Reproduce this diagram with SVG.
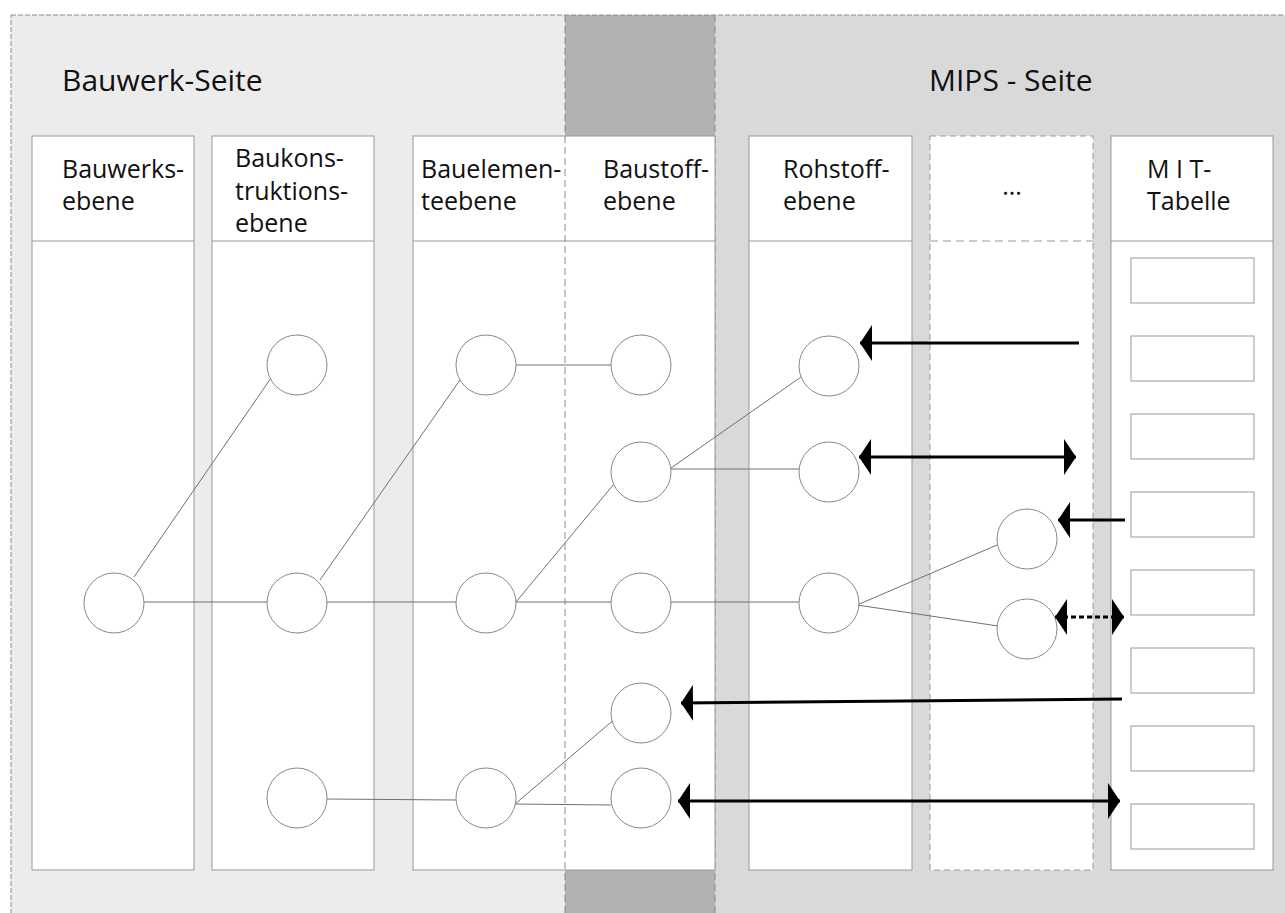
<svg xmlns="http://www.w3.org/2000/svg" width="1285" height="913" viewBox="0 0 1285 913">
<style>
.txt{font-family:"Open Sans","Noto Sans","Liberation Sans",sans-serif;fill:#111}
.title{font-size:30px}
.hd{font-size:25px}
.box{fill:#fff;stroke:#999;stroke-width:1}
.dbox{fill:#fff;stroke:#999;stroke-width:1;stroke-dasharray:6 4}
.hl{stroke:#999;stroke-width:1;fill:none}
.node{fill:#fff;stroke:#888;stroke-width:1}
.con{stroke:#707070;stroke-width:1;fill:none}
.arr{stroke:#000;stroke-width:3;fill:none}
.mit{fill:#fff;stroke:#999;stroke-width:1}
</style>
<defs>
<marker id="head" viewBox="0 -19 14 38" refX="12" refY="0" markerWidth="14" markerHeight="38" markerUnits="userSpaceOnUse" orient="auto-start-reverse">
<path d="M0,-18 L12,0 L0,18 Z" fill="#000"/>
</marker>
</defs>

<!-- backgrounds -->
<g id="background">
<rect x="11" y="15" width="554" height="910" fill="#ececec"/>
<rect x="565" y="15" width="150" height="910" fill="#b1b1b1"/>
<rect x="715" y="15" width="580" height="910" fill="#d9d9d9"/>
<rect x="11" y="15" width="1290" height="920" fill="none" stroke="#8c8c8c" stroke-width="1" stroke-dasharray="5 2"/>
<line x1="565" y1="15" x2="565" y2="913" stroke="#888" stroke-width="1" stroke-dasharray="7 4"/>
<line x1="715" y1="15" x2="715" y2="913" stroke="#888" stroke-width="1" stroke-dasharray="7 4"/>
<text class="txt title" x="62" y="91">Bauwerk-Seite</text>
<text class="txt title" x="929" y="91">MIPS - Seite</text>
</g>

<!-- columns -->
<g id="col-bauwerk">
<rect class="box" x="32" y="136" width="162" height="734"/>
<line class="hl" x1="32" y1="241" x2="194" y2="241"/>
<text class="txt hd" x="62" y="178">Bauwerks-</text>
<text class="txt hd" x="62" y="210">ebene</text>
</g>
<g id="col-baukonstruktion">
<rect class="box" x="212" y="136" width="162" height="734"/>
<line class="hl" x1="212" y1="241" x2="374" y2="241"/>
<text class="txt hd" x="235" y="167">Baukons-</text>
<text class="txt hd" x="235" y="200">truktions-</text>
<text class="txt hd" x="235" y="232">ebene</text>
</g>
<g id="col-bauelement-baustoff">
<rect class="box" x="413" y="136" width="302" height="734"/>
<line class="hl" x1="413" y1="241" x2="715" y2="241"/>
<line x1="565" y1="136" x2="565" y2="870" stroke="#8a8a8a" stroke-width="1" stroke-dasharray="7 4"/>
<text class="txt hd" x="421" y="178">Bauelemen-</text>
<text class="txt hd" x="421" y="210">teebene</text>
<text class="txt hd" x="603" y="178">Baustoff-</text>
<text class="txt hd" x="603" y="210">ebene</text>
</g>
<g id="col-rohstoff">
<rect class="box" x="749" y="136" width="163" height="734"/>
<line class="hl" x1="749" y1="241" x2="912" y2="241"/>
<text class="txt hd" x="783" y="178">Rohstoff-</text>
<text class="txt hd" x="783" y="210">ebene</text>
</g>
<g id="col-dots">
<rect class="dbox" x="930" y="136" width="163" height="734"/>
<line x1="930" y1="241" x2="1093" y2="241" stroke="#999" stroke-width="1" stroke-dasharray="8 5"/>
<text class="txt hd" x="1012" y="195" text-anchor="middle">...</text>
</g>
<g id="col-mit">
<rect class="box" x="1111" y="136" width="162" height="734"/>
<line class="hl" x1="1111" y1="241" x2="1273" y2="241"/>
<text class="txt hd" x="1147" y="178">M I T-</text>
<text class="txt hd" x="1147" y="210">Tabelle</text>
<rect class="mit" x="1131" y="258" width="123" height="45"/>
<rect class="mit" x="1131" y="336" width="123" height="45"/>
<rect class="mit" x="1131" y="414" width="123" height="45"/>
<rect class="mit" x="1131" y="492" width="123" height="45"/>
<rect class="mit" x="1131" y="570" width="123" height="45"/>
<rect class="mit" x="1131" y="648" width="123" height="45"/>
<rect class="mit" x="1131" y="726" width="123" height="45"/>
<rect class="mit" x="1131" y="804" width="123" height="45"/>
</g>

<!-- connectors -->
<g id="connectors">
<line class="con" x1="134" y1="577" x2="271" y2="378"/>
<line class="con" x1="144" y1="602" x2="267" y2="602"/>
<line class="con" x1="320" y1="580" x2="460" y2="380"/>
<line class="con" x1="327" y1="602" x2="457" y2="602"/>
<line class="con" x1="516" y1="365" x2="611" y2="365"/>
<line class="con" x1="516" y1="602" x2="611" y2="602"/>
<line class="con" x1="671" y1="602" x2="799" y2="602"/>
<line class="con" x1="516" y1="602" x2="614" y2="484"/>
<line class="con" x1="671" y1="468" x2="801" y2="377"/>
<line class="con" x1="671" y1="469" x2="799" y2="469"/>
<line class="con" x1="857" y1="605" x2="997" y2="545"/>
<line class="con" x1="857" y1="605" x2="998" y2="626"/>
<line class="con" x1="327" y1="799" x2="457" y2="800"/>
<line class="con" x1="515" y1="804" x2="611" y2="805"/>
<line class="con" x1="515" y1="804" x2="616" y2="718"/>
</g>

<!-- nodes -->
<g id="n-b1"><circle class="node" cx="114" cy="603" r="30"/></g>
<g id="n-k1"><circle class="node" cx="297" cy="365" r="30"/></g>
<g id="n-k2"><circle class="node" cx="297" cy="603" r="30"/></g>
<g id="n-k3"><circle class="node" cx="297" cy="798" r="30"/></g>
<g id="n-e1"><circle class="node" cx="486" cy="365" r="30"/></g>
<g id="n-e2"><circle class="node" cx="486" cy="603" r="30"/></g>
<g id="n-e3"><circle class="node" cx="486" cy="798" r="30"/></g>
<g id="n-s1"><circle class="node" cx="641" cy="365" r="30"/></g>
<g id="n-s2"><circle class="node" cx="641" cy="472" r="30"/></g>
<g id="n-s3"><circle class="node" cx="641" cy="603" r="30"/></g>
<g id="n-s4"><circle class="node" cx="641" cy="713" r="30"/></g>
<g id="n-s5"><circle class="node" cx="641" cy="798" r="30"/></g>
<g id="n-r1"><circle class="node" cx="829" cy="366" r="30"/></g>
<g id="n-r2"><circle class="node" cx="829" cy="472" r="30"/></g>
<g id="n-r3"><circle class="node" cx="829" cy="603" r="30"/></g>
<g id="n-d1"><circle class="node" cx="1027" cy="539" r="30"/></g>
<g id="n-d2"><circle class="node" cx="1027" cy="629" r="30"/></g>

<!-- arrows -->
<g id="arrows">
<line class="arr" x1="1079" y1="343" x2="860" y2="343" marker-end="url(#head)"/>
<line class="arr" x1="859" y1="457" x2="1076" y2="457" marker-start="url(#head)" marker-end="url(#head)"/>
<line class="arr" x1="1125" y1="520" x2="1058" y2="520" marker-end="url(#head)"/>
<line class="arr" x1="1055" y1="617" x2="1124" y2="617" stroke-dasharray="5 3" marker-start="url(#head)" marker-end="url(#head)"/>
<line class="arr" x1="1122" y1="699" x2="681" y2="703" marker-end="url(#head)"/>
<line class="arr" x1="678" y1="801" x2="1120" y2="801" marker-start="url(#head)" marker-end="url(#head)"/>
</g>
</svg>
